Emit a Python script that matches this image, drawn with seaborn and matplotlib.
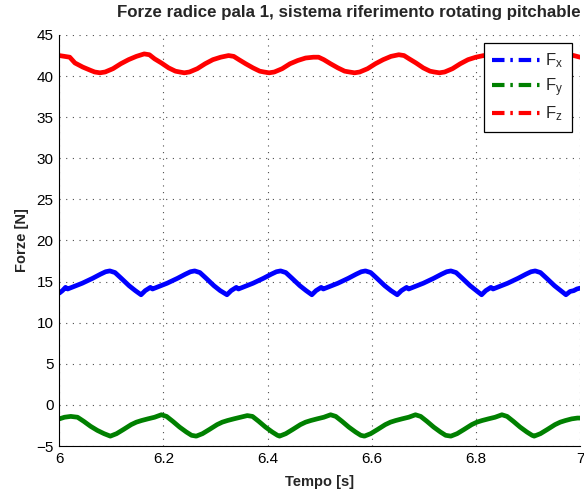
import matplotlib
matplotlib.use("Agg")
import matplotlib.pyplot as plt
import seaborn as sns
import pandas as pd
from matplotlib.lines import Line2D

# ---- data ----
t_fx = [6.000, 6.006, 6.012, 6.016, 6.024, 6.044, 6.064, 6.079, 6.089, 6.097, 6.107, 6.119, 6.134, 6.146,
        6.157, 6.165, 6.170, 6.175, 6.179, 6.187, 6.207, 6.227, 6.242, 6.252, 6.260, 6.270, 6.282, 6.297, 6.309,
        6.322, 6.330, 6.335, 6.340, 6.344, 6.352, 6.372, 6.392, 6.407, 6.417, 6.425, 6.435, 6.447, 6.462, 6.474,
        6.485, 6.493, 6.498, 6.503, 6.507, 6.515, 6.535, 6.555, 6.570, 6.580, 6.588, 6.598, 6.610, 6.625, 6.637,
        6.649, 6.657, 6.662, 6.667, 6.671, 6.679, 6.699, 6.719, 6.734, 6.744, 6.752, 6.762, 6.774, 6.789, 6.801,
        6.811, 6.819, 6.824, 6.829, 6.833, 6.841, 6.861, 6.881, 6.896, 6.906, 6.914, 6.924, 6.936, 6.951, 6.963,
        6.973, 6.981, 6.988, 6.994, 7.000]
fx = [13.6, 13.9, 14.3, 14.1, 14.3, 14.8, 15.4, 15.9, 16.2, 16.3, 16.1, 15.4, 14.5, 13.9,
      13.4, 13.9, 14.1, 14.3, 14.1, 14.3, 14.8, 15.4, 15.9, 16.2, 16.3, 16.1, 15.4, 14.5, 13.9,
      13.4, 13.9, 14.1, 14.3, 14.1, 14.3, 14.8, 15.4, 15.9, 16.2, 16.3, 16.1, 15.4, 14.5, 13.9,
      13.4, 13.9, 14.1, 14.3, 14.1, 14.3, 14.8, 15.4, 15.9, 16.2, 16.3, 16.1, 15.4, 14.5, 13.9,
      13.4, 13.9, 14.1, 14.3, 14.1, 14.3, 14.8, 15.4, 15.9, 16.2, 16.3, 16.1, 15.4, 14.5, 13.9,
      13.4, 13.9, 14.1, 14.3, 14.1, 14.3, 14.8, 15.4, 15.9, 16.2, 16.3, 16.1, 15.4, 14.5, 13.9,
      13.4, 13.8, 13.9, 14.1, 14.2]

t_fy = [6.000, 6.010, 6.022, 6.035, 6.047, 6.060, 6.073, 6.086,
        6.098, 6.110, 6.123, 6.138, 6.148, 6.158, 6.170, 6.183, 6.196, 6.206, 6.218, 6.231, 6.244, 6.254,
        6.263, 6.275, 6.288, 6.303, 6.313, 6.323, 6.335, 6.348, 6.361, 6.371, 6.383, 6.396, 6.409, 6.419,
        6.423, 6.435, 6.448, 6.463, 6.473, 6.483, 6.495, 6.508, 6.521, 6.531, 6.543, 6.556, 6.569, 6.579,
        6.586, 6.598, 6.611, 6.626, 6.636, 6.646, 6.658, 6.671, 6.684, 6.694, 6.706, 6.719, 6.732, 6.742,
        6.752, 6.764, 6.777, 6.792, 6.802, 6.812, 6.824, 6.837, 6.850, 6.860, 6.872, 6.885, 6.898, 6.908,
        6.912, 6.924, 6.937, 6.952, 6.962, 6.972, 6.984, 6.995, 7.000]
fy = [-1.7, -1.5, -1.4, -1.5, -2.0, -2.6, -3.1, -3.5,
      -3.8, -3.5, -3.0, -2.4, -2.1, -1.9, -1.7, -1.5, -1.2, -1.4, -2.0, -2.7, -3.3, -3.7,
      -3.8, -3.5, -3.0, -2.4, -2.1, -1.9, -1.7, -1.5, -1.3, -1.4, -2.0, -2.7, -3.3, -3.7,
      -3.8, -3.5, -3.0, -2.4, -2.1, -1.9, -1.7, -1.5, -1.2, -1.4, -2.0, -2.7, -3.3, -3.7,
      -3.8, -3.5, -3.0, -2.4, -2.1, -1.9, -1.7, -1.5, -1.2, -1.4, -2.0, -2.7, -3.3, -3.7,
      -3.8, -3.5, -3.0, -2.4, -2.1, -1.9, -1.7, -1.5, -1.2, -1.4, -2.0, -2.7, -3.3, -3.7,
      -3.8, -3.5, -3.0, -2.4, -2.1, -1.9, -1.7, -1.6, -1.6]

t_fz = [6.000, 6.010, 6.020, 6.030, 6.045, 6.060, 6.068,
        6.078, 6.088, 6.103, 6.118, 6.133, 6.148, 6.163, 6.173, 6.183, 6.196, 6.210, 6.223, 6.231,
        6.240, 6.250, 6.265, 6.280, 6.295, 6.310, 6.325, 6.335, 6.345, 6.358, 6.372, 6.385, 6.393,
        6.403, 6.413, 6.428, 6.443, 6.458, 6.473, 6.488, 6.498, 6.508, 6.521, 6.535, 6.548, 6.557,
        6.567, 6.577, 6.592, 6.607, 6.622, 6.637, 6.652, 6.662, 6.672, 6.685, 6.699, 6.712, 6.720,
        6.730, 6.740, 6.755, 6.770, 6.785, 6.800, 6.815, 6.825, 6.835, 6.848, 6.862, 6.875, 6.883,
        6.893, 6.903, 6.918, 6.933, 6.948, 6.963, 6.978, 6.988, 7.000]
fz = [42.5, 42.4, 42.3, 41.6, 41.1, 40.7, 40.5,
      40.4, 40.5, 40.9, 41.5, 42.0, 42.4, 42.7, 42.6, 42.1, 41.6, 41.0, 40.6, 40.5,
      40.4, 40.5, 40.9, 41.5, 42.0, 42.3, 42.5, 42.4, 42.0, 41.5, 41.0, 40.6, 40.5,
      40.4, 40.5, 40.9, 41.5, 41.9, 42.2, 42.3, 42.3, 42.0, 41.5, 41.0, 40.6, 40.5,
      40.4, 40.5, 40.9, 41.5, 42.0, 42.4, 42.6, 42.5, 42.1, 41.6, 41.0, 40.6, 40.5,
      40.4, 40.5, 40.9, 41.5, 42.0, 42.3, 42.5, 42.4, 42.0, 41.5, 41.0, 40.6, 40.5,
      40.4, 40.5, 40.9, 41.5, 42.0, 42.4, 42.6, 42.5, 42.3]

series_names = ["F$_x$", "F$_y$", "F$_z$"]
series_colors = ["#0000ff", "#008000", "#ff0000"]
x_ticks = [6, 6.2, 6.4, 6.6, 6.8, 7]
x_ticklabels = ["6", "6.2", "6.4", "6.6", "6.8", "7"]
y_ticks = [-5, 0, 5, 10, 15, 20, 25, 30, 35, 40, 45]

df = pd.concat([
    pd.DataFrame({"t": t_fx, "v": fx, "s": series_names[0]}),
    pd.DataFrame({"t": t_fy, "v": fy, "s": series_names[1]}),
    pd.DataFrame({"t": t_fz, "v": fz, "s": series_names[2]}),
], ignore_index=True)

sns.set_theme(style="white")
plt.rcParams["font.family"] = ["Liberation Sans", "DejaVu Sans"]
plt.rcParams["mathtext.fontset"] = "custom"
plt.rcParams["mathtext.rm"] = "Liberation Sans"
plt.rcParams["mathtext.it"] = "Liberation Sans"

fig = plt.figure(figsize=(5.84, 4.93), dpi=100)
ax = fig.add_axes([59.3 / 584, 1 - 446 / 493, (580 - 59.3) / 584, (446 - 35) / 493])

sns.lineplot(data=df, x="t", y="v", hue="s", palette=dict(zip(series_names, series_colors)),
             sort=False, estimator=None, linewidth=3.4, legend=False, ax=ax)

ax.set_xlim(6, 7)
ax.set_ylim(-5, 45)
ax.set_xticks(x_ticks)
ax.set_xticklabels(x_ticklabels)
ax.set_yticks(y_ticks)
ax.tick_params(direction="in", length=4, width=0.8, colors="black", labelsize=11, pad=4)
for side in ["top", "right"]:
    ax.spines[side].set_visible(False)
for side in ["left", "bottom"]:
    ax.spines[side].set_color("black")
    ax.spines[side].set_linewidth(0.8)
ax.grid(True, color="0.3", linestyle=(0, (1, 5)), linewidth=0.8)
ax.set_axisbelow(True)

ax.set_xlabel("Tempo [s]", fontweight="bold", fontsize=10.5, labelpad=7)
ax.set_ylabel("Forze [N]", fontweight="bold", fontsize=10.5, labelpad=5)
fig.text(349 / 584, 1 - 13 / 493, "Forze radice pala 1, sistema riferimento rotating pitchable",
         fontweight="bold", fontsize=12.2, ha="center", va="center")

handles = [Line2D([0], [0], color=c, lw=3.0, linestyle=(0, (3, 1.4, 0.6, 1.4))) for c in series_colors]
leg = ax.legend(handles, series_names, loc="upper right", fontsize=12, frameon=True, fancybox=False,
                edgecolor="black", framealpha=1, handlelength=2.9, borderaxespad=0.5,
                labelspacing=0.35, handletextpad=0.3, borderpad=0.5)
leg.get_frame().set_linewidth(0.9)

fig.savefig("out.png", dpi=100)
